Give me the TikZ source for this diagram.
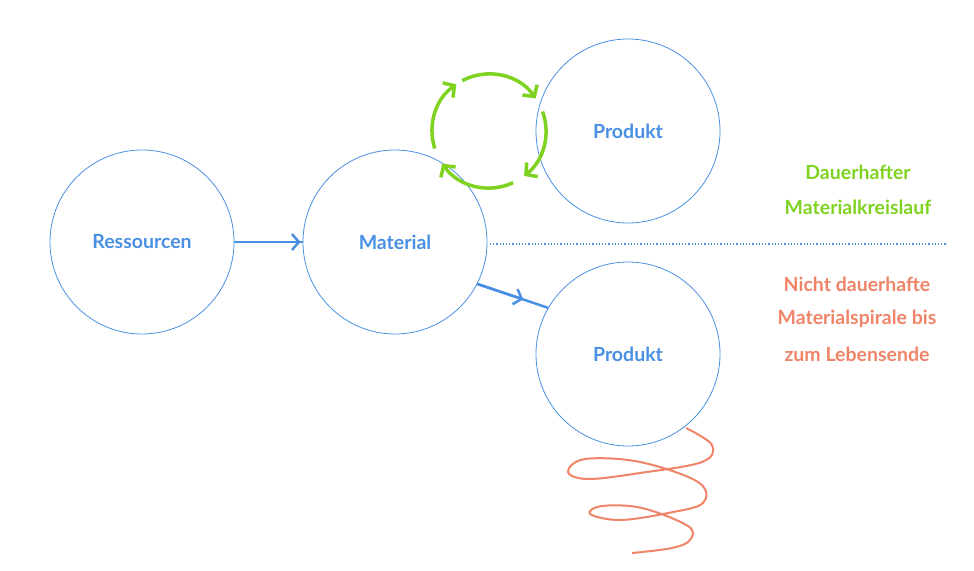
\documentclass[tikz,border=0pt]{standalone}
\usepackage{fontspec}
\setmainfont{Lato}
\usetikzlibrary{arrows.meta,calc}
\definecolor{cblue}{HTML}{4A90E2}
\definecolor{cgreen}{HTML}{7ED321}
\definecolor{corange}{HTML}{EF8468}
\begin{document}
\begin{tikzpicture}[x=1pt,y=-1pt,
  circ/.style={circle,draw=cblue,line width=0.8pt,minimum size=184pt,inner sep=0pt,text=cblue,font=\fontsize{19.5}{22}\selectfont\bfseries},
  arr/.style={cblue,line width=2.5pt},
  head/.style={-{Straight Barb[length=7pt,width=16pt,line width=2.5pt]}},
  cyc/.style={cgreen,line width=3.5pt,-{Straight Barb[length=8pt,width=18pt,line width=3.5pt]}},
  lbl/.style={font=\fontsize{19.5}{22}\selectfont\bfseries,align=center}]
\useasboundingbox (0,0) rectangle (974,570);
\node[circ] (r) at (142,242) {Ressourcen};
\node[circ] (m) at (395,242) {Material};
\node[circ] (p1) at (628,131) {Produkt};
\node[circ] (p2) at (628,354) {Produkt};
\draw[arr] (r) -- (m);
\draw[arr,head] (r.east) -- ($(m.west)+(-2,0)$);
\draw[arr] (m.-27) -- (p2.150);
\path (m.-27) -- coordinate[pos=0.65] (mm) (p2.150);
\draw[arr,head] (m.-27) -- (mm);
\coordinate (d1) at (490,244);
\coordinate (d2) at (946,244);
\draw[cblue,line width=1.2pt,dotted] (d1) -- (d2);
\coordinate (cc) at (489,131);
\draw[cyc] ($(cc)+(-118:57)$) arc[start angle=-118,end angle=-35,radius=57];
\draw[cyc] ($(cc)+(-20:57)$) arc[start angle=-20,end angle=52,radius=57];
\draw[cyc] ($(cc)+(65:57)$) arc[start angle=65,end angle=145,radius=57];
\draw[cyc] ($(cc)+(162:57)$) arc[start angle=162,end angle=235,radius=57];
\draw[corange,line width=2pt] plot[smooth,tension=0.6] coordinates {(686,428) (712,445) (702,462) (640,473) (588,479) (568,472) (585,459) (640,462) (698,482) (703,503) (668,513) (620,520) (590,514) (602,506) (642,508) (688,526) (690,540) (672,548) (632,553)};
\node[lbl,text=cgreen] (g1) at (858,172) {Dauerhafter};
\node[lbl,text=cgreen] (g2) at (858,207) {Materialkreislauf};
\node[lbl,text=corange] (o1) at (857,284) {Nicht dauerhafte};
\node[lbl,text=corange] (o2) at (857,319) {Materialspirale bis};
\node[lbl,text=corange] (o3) at (857,354) {zum Lebensende};
\end{tikzpicture}
\end{document}
